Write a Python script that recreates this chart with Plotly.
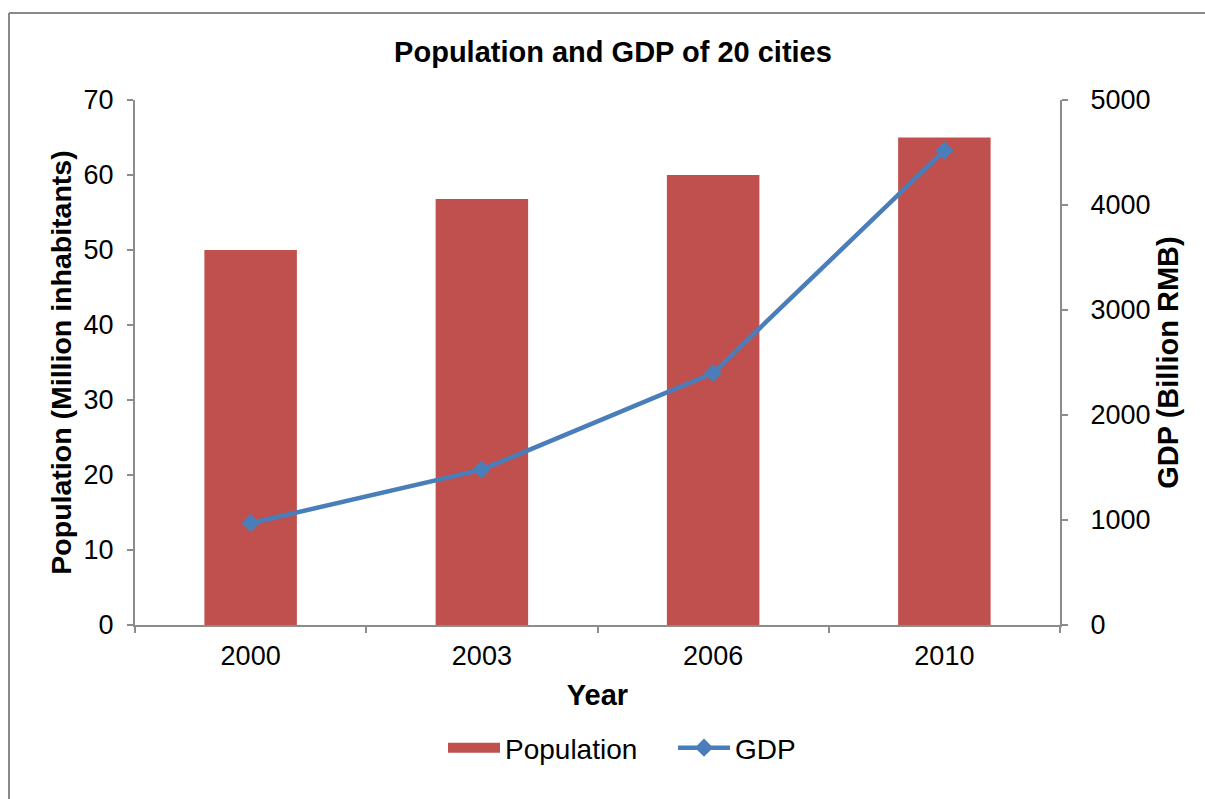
import plotly.graph_objects as go

years = ["2000", "2003", "2006", "2010"]
population = [50, 56.8, 60, 65]          # million inhabitants
gdp = [970, 1480, 2400, 4520]            # billion RMB

W, H = 1205, 799
ML, MR, MT, MB = 135, 145, 100, 174
PW, PH = W - ML - MR, H - MT - MB

FONT = "Liberation Sans, Arial, sans-serif"
AXIS_GREY = "#8c8c8c"
BAR_RED = "#C0504D"
LINE_BLUE = "#4A7EBB"


def px_x(p):
    return (p - ML) / PW


def px_y(p):
    return (H - MB - p) / PH


fig = go.Figure()
fig.add_trace(go.Bar(
    x=years, y=population, name="Population",
    marker=dict(color=BAR_RED, line=dict(width=0)),
    yaxis="y", showlegend=False, legendgroup="pop",
))
# wide rectangular legend key for the population bars
fig.add_trace(go.Scatter(
    x=[None], y=[None], name="Population", mode="lines",
    line=dict(color=BAR_RED, width=15), legendgroup="pop",
    yaxis="y",
))
fig.add_trace(go.Scatter(
    x=years, y=gdp, name="GDP", mode="lines+markers",
    line=dict(color=LINE_BLUE, width=4.5),
    marker=dict(symbol="diamond", size=14, color=LINE_BLUE),
    yaxis="y2",
))

# outer chart frame (top and left edges visible)
fig.add_shape(type="line", xref="paper", yref="paper",
              x0=px_x(9), x1=px_x(1210), y0=px_y(13), y1=px_y(13),
              line=dict(color="#898989", width=2))
fig.add_shape(type="line", xref="paper", yref="paper",
              x0=px_x(9), x1=px_x(9), y0=px_y(13), y1=px_y(805),
              line=dict(color="#898989", width=2))

TICK_FONT = dict(size=27, family=FONT, color="black")
TITLE_FONT = dict(size=29, family=FONT, color="black")

fig.update_layout(
    width=W, height=H,
    margin=dict(l=ML, r=MR, t=MT, b=MB, autoexpand=False),
    paper_bgcolor="white", plot_bgcolor="white",
    font=dict(family=FONT, size=27, color="black"),
    title=dict(text="<b>Population and GDP of 20 cities</b>",
               x=px_x(613), xref="paper", xanchor="center",
               y=1 - 52 / H, yanchor="middle",
               font=TITLE_FONT),
    bargap=0.6,
    showlegend=True,
    legend=dict(orientation="h", x=px_x(443), xanchor="left",
                y=px_y(748), yanchor="middle",
                font=dict(size=28, family=FONT, color="black"),
                itemwidth=52, entrywidth=163, entrywidthmode="pixels",
                tracegroupgap=0),
    xaxis=dict(
        type="category", tickson="boundaries",
        showline=True, linecolor=AXIS_GREY, linewidth=2,
        ticks="outside", ticklen=6, tickcolor=AXIS_GREY, tickwidth=2,
        showgrid=False, zeroline=False,
        tickfont=TICK_FONT, ticklabelstandoff=6,
        title=dict(text="<b>Year</b>", standoff=14, font=TITLE_FONT),
    ),
    yaxis=dict(
        range=[0, 70], dtick=10,
        showline=True, linecolor=AXIS_GREY, linewidth=2,
        ticks="outside", ticklen=6, tickcolor=AXIS_GREY, tickwidth=2,
        showgrid=False, zeroline=False,
        tickfont=TICK_FONT, ticklabelstandoff=8,
        title=dict(text="<b>Population (Million inhabitants)</b>", standoff=4,
                   font=dict(size=28.5, family=FONT, color="black")),
    ),
    yaxis2=dict(
        range=[0, 5000], dtick=1000, overlaying="y", side="right",
        showline=True, linecolor=AXIS_GREY, linewidth=2,
        ticks="outside", ticklen=6, tickcolor=AXIS_GREY, tickwidth=2,
        showgrid=False, zeroline=False,
        tickfont=TICK_FONT, ticklabelstandoff=17,
        title=dict(text="<b>GDP (Billion RMB)</b>", standoff=8,
                   font=TITLE_FONT),
    ),
)

fig.write_html("out.html")
